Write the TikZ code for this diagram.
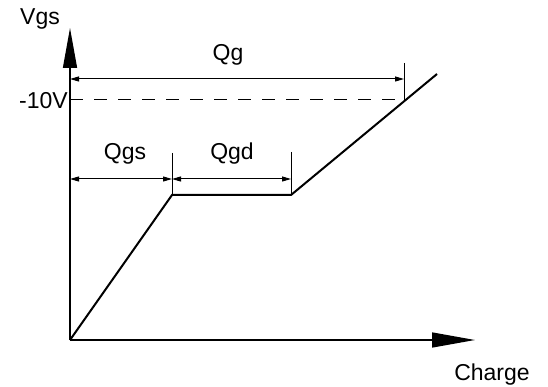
\documentclass[tikz,border=0pt]{standalone}
\usepackage{fontspec}
\setmainfont{Liberation Sans}
\usetikzlibrary{arrows.meta}

\begin{document}
\begin{tikzpicture}[x=1pt,y=-1pt,
    lbl/.style={font=\fontsize{23}{27}\selectfont,inner sep=0pt},
    axis/.style={line width=1.4pt},
    dim/.style={line width=1pt,{Triangle[length=9pt,width=5pt]}-{Triangle[length=9pt,width=5pt]}},
    tick/.style={line width=1pt},
    curve/.style={line width=2pt,line join=miter}]
   \useasboundingbox (0,0) rectangle (548,387);
   % axes
   \coordinate (O) at (70,340);
   \coordinate (ytop) at (70,28);
   \coordinate (xend) at (475,340);
   \draw[axis,-{Triangle[length=40pt,width=14pt]}] (O) -- (ytop);
   \draw[axis,-{Triangle[length=43pt,width=15pt]}] (O) -- (xend);
   \node[lbl,anchor=base] (vgs) at (40,25) {Vgs};
   \node[lbl,anchor=base] (charge) at (492,380) {Charge};
   % gate charge curve
   \coordinate (p1) at (172,195);
   \coordinate (p2) at (291,195);
   \coordinate (p3) at (437,74);
   \draw[curve] (O) -- (p1) -- (p2) -- (p3);
   % -10V level
   \coordinate (v0) at (70,100);
   \coordinate (v1) at (404,100);
   \node[lbl,anchor=base east] (tenv) at (68,109) {-10V};
   \draw[line width=1pt,dash pattern=on 13pt off 11pt] (v0) -- (v1);
   % ticks for the charge intervals
   \foreach \x/\t/\b in {404/63/102, 172/153/195, 291/152/195}
     \draw[tick] (\x,\t) -- (\x,\b);
   % dimension lines
   \coordinate (g0) at (70,79);
   \coordinate (g1) at (404,79);
   \coordinate (s0) at (70,179);
   \coordinate (s1) at (172,179);
   \coordinate (d1) at (291,179);
   \draw[dim] (g0) -- (g1);
   \draw[dim] (s0) -- (s1);
   \draw[dim] (s1) -- (d1);
   \node[lbl,anchor=base] (qg) at (228,61) {Qg};
   \node[lbl,anchor=base] (qgs) at (125,160) {Qgs};
   \node[lbl,anchor=base] (qgd) at (232,160) {Qgd};
\end{tikzpicture}
\end{document}
